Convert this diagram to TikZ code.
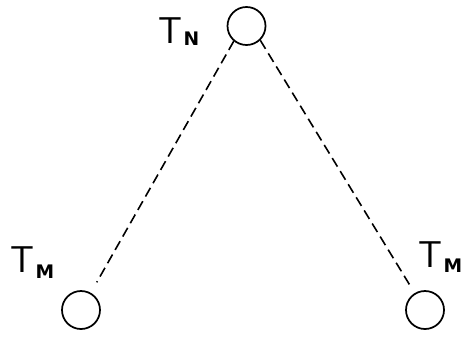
\documentclass[tikz,border=0pt]{standalone}
\usepackage{fontspec}
\usepackage{tikz}
\usetikzlibrary{positioning}
\newfontfamily\subfont{DejaVu Sans}
\newcommand{\tlabel}[2]{T\kern1pt\raisebox{#2}{\fontsize{14}{14}\subfont\bfseries #1}}
\tikzset{
  site/.style={circle,draw,line width=1.3pt,minimum size=28.5pt,inner sep=0pt},
  lbl/.style={anchor=base west,inner sep=0pt,font=\fontsize{28}{28}\selectfont\sffamily},
  link/.style={dash pattern=on 7.5pt off 4pt,line width=1.2pt}
}
\begin{document}
\begin{tikzpicture}[x=0.75pt,y=-0.75pt]
\useasboundingbox (0,0) rectangle (466,336);
% sites
\node[site] (tn) at (246.5,26) {};
\node[site] (tml) at (81,310) {};
\node[site] (tmr) at (425,310) {};
% labels
\node[lbl] (ln) at (158,43) {\tlabel{N}{-2pt}};
\node[lbl] (lml) at (10,272) {\tlabel{M}{-5pt}};
\node[lbl] (lmr) at (418,267) {\tlabel{M}{-4pt}};
% dashed links
\draw[link,shorten >=9pt] (tn.230) -- (tml);
\draw[link,shorten >=5pt] (tn.314) -- (tmr);
\end{tikzpicture}
\end{document}
